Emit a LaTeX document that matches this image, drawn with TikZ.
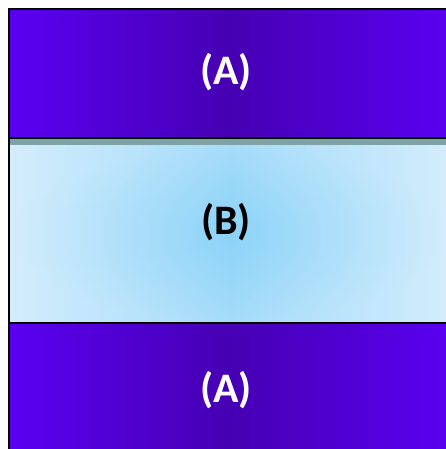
\documentclass[tikz,border=0pt]{standalone}
\usepackage{fontspec}
\setmainfont{Carlito}
\definecolor{purpEdge}{HTML}{5A00F2}
\definecolor{purpMid}{HTML}{4600B2}
\definecolor{blueIn}{HTML}{8CD3F8}
\definecolor{blueOut}{HTML}{D4EDFC}
\definecolor{tealStrip}{HTML}{7FA2A4}
\tikzset{
  purpband/.style={left color=purpEdge, right color=purpEdge, middle color=purpMid},
  blueband/.style={left color=blueOut, right color=blueOut, middle color=blueIn},
  bandline/.style={line width=2.8pt, black},
  lab/.style={font=\fontsize{42}{48}\selectfont\bfseries, inner sep=0pt},
}
\begin{document}
\begin{tikzpicture}[x=1pt,y=-1pt]
\useasboundingbox (0,0) rectangle (446,449);
\begin{scope}
\clip (0,0) rectangle (446,449);
% bands (they run on past the right edge of the picture)
\shade[purpband] (9,9) rectangle (452,138);
\shade[blueband] (9,138) rectangle (452,323);
\shade[inner color=blueIn, outer color=blueOut, opacity=0.35] (9,145) rectangle (452,323);
\fill[tealStrip] (9,139) rectangle (460,145);
\shade[purpband] (9,323) rectangle (452,448);
% borders
\draw[bandline] (9,449) -- (9,9) -- (460,9);
\draw[bandline] (9,138) -- (460,138);
\draw[bandline] (9,323) -- (460,323);
\end{scope}
\node[lab, text=white] (topA) at (226,72) {(A)};
\node[lab, text=black] (midB) at (226,222) {(B)};
\node[lab, text=white] (botA) at (226,390) {(A)};
\end{tikzpicture}
\end{document}
